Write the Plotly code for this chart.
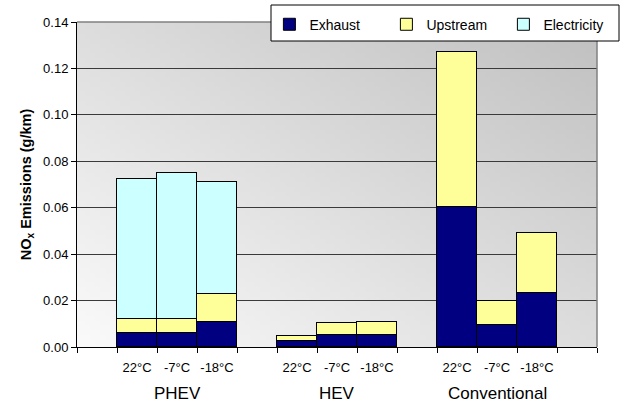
import base64
import struct
import zlib

import plotly.graph_objects as go

# ---------------- data ----------------
groups = ["PHEV", "HEV", "Conventional"]
temps = ["22°C", "-7°C", "-18°C"]

exhaust = [0.0059, 0.0060, 0.0108,
           0.0026, 0.0050, 0.0052,
           0.0602, 0.0093, 0.0234]
upstream = [0.0060, 0.0061, 0.0119,
            0.0021, 0.0052, 0.0057,
            0.0668, 0.0105, 0.0257]
electricity = [0.0603, 0.0629, 0.0483,
               0.0, 0.0, 0.0,
               0.0, 0.0, 0.0]

series_names = ["Exhaust", "Upstream", "Electricity"]
series_colors = ["#000080", "#FFFF99", "#CCFFFF"]

y_ticks = [0.00, 0.02, 0.04, 0.06, 0.08, 0.10, 0.12, 0.14]

# ---------------- layout helpers ----------------
slot = len(temps) + 1  # one empty slot between groups
positions = []
labels = []
for gi, g in enumerate(groups):
    for ti, t in enumerate(temps):
        positions.append(gi * slot + ti + 1)
        labels.append(t)
x_min = -0.5
x_max = len(groups) * slot + 0.5
group_centers = [gi * slot + (len(temps) + 1) / 2 for gi in range(len(groups))]


def make_png(w, h):
    c_light, c_dark = 250, 192
    rows = []
    for j in range(h):
        v = j / (h - 1)  # 0 top, 1 bottom
        row = bytearray()
        for i in range(w):
            u = i / (w - 1)
            t = (u + (1 - v)) / 2
            c = int(round(c_light + (c_dark - c_light) * t))
            row += bytes((c, c, c))
        rows.append(b"\x00" + bytes(row))
    raw = b"".join(rows)

    def chunk(tag, data):
        return (struct.pack(">I", len(data)) + tag + data
                + struct.pack(">I", zlib.crc32(tag + data) & 0xFFFFFFFF))

    png = b"\x89PNG\r\n\x1a\n"
    png += chunk(b"IHDR", struct.pack(">IIBBBBB", w, h, 8, 2, 0, 0, 0))
    png += chunk(b"IDAT", zlib.compress(raw, 9))
    png += chunk(b"IEND", b"")
    return "data:image/png;base64," + base64.b64encode(png).decode()


FONT = "Liberation Sans, Arial, sans-serif"

fig = go.Figure()
for name, vals, col in zip(series_names, [exhaust, upstream, electricity], series_colors):
    fig.add_trace(go.Bar(
        name=name, x=positions, y=vals, width=1,
        marker=dict(color=col, line=dict(color="black", width=1)),
        hovertemplate="%{y:.4f}<extra>" + name + "</extra>",
    ))

fig.update_layout(
    width=622, height=407,
    margin=dict(l=77, r=25, t=22, b=60, autoexpand=False),
    paper_bgcolor="white",
    plot_bgcolor="rgba(0,0,0,0)",
    barmode="stack",
    bargap=0,
    font=dict(family=FONT, color="black", size=13),
    showlegend=True,
    legend=dict(
        orientation="h", x=0.37, xanchor="left", y=1.041, yanchor="top",
        bgcolor="rgba(0,0,0,0)", borderwidth=0,
        font=dict(size=14, family=FONT),
        entrywidth=72, traceorder="normal",
    ),
    images=[dict(
        source=make_png(104, 68), xref="paper", yref="paper",
        x=0, y=1, sizex=1, sizey=1, xanchor="left", yanchor="top",
        sizing="stretch", layer="below",
    )],
    xaxis=dict(
        range=[x_min, x_max], tickvals=positions, ticktext=labels,
        ticks="", showgrid=False, zeroline=False, automargin=False,
        showline=True, linecolor="black", linewidth=1,
        tickfont=dict(size=13), ticklabelstandoff=8,
        minor=dict(tick0=0.5, dtick=1, ticks="outside", ticklen=5,
                   tickcolor="black", showgrid=False),
        fixedrange=True,
    ),
    yaxis=dict(
        range=[0, 0.14], tickvals=y_ticks, tickformat=".2f",
        ticks="outside", ticklen=5, tickcolor="black", automargin=False,
        showgrid=True, gridcolor="#3a3a3a", gridwidth=1,
        zeroline=False, showline=True, linecolor="black", linewidth=1,
        tickfont=dict(size=13),
        title=dict(text="<b>NO<sub>x</sub> Emissions (g/km)</b>",
                   font=dict(size=14.5), standoff=8),
        fixedrange=True,
    ),
    shapes=[
        dict(type="line", xref="paper", yref="paper", x0=1, x1=1, y0=0, y1=1,
             line=dict(color="#808080", width=1.5), layer="above"),
        dict(type="line", xref="paper", yref="paper", x0=0, x1=1, y0=1, y1=1,
             line=dict(color="#808080", width=1.5), layer="above"),
        dict(type="rect", xref="paper", yref="paper",
             x0=(271 - 77) / 520, x1=(619 - 77) / 520,
             y0=(347 - 41) / 325, y1=(347 - 5) / 325,
             fillcolor="white", line=dict(color="black", width=1), layer="above"),
    ],
    annotations=[
        dict(text=g, x=cx, xref="x", y=0, yref="paper", yanchor="middle",
             yshift=-46, showarrow=False, font=dict(size=17))
        for g, cx in zip(groups, group_centers)
    ],
)

fig.write_html(
    "out.html",
    config={"displayModeBar": False},
    post_script="document.body.style.margin='0';document.body.style.padding='0';",
)
